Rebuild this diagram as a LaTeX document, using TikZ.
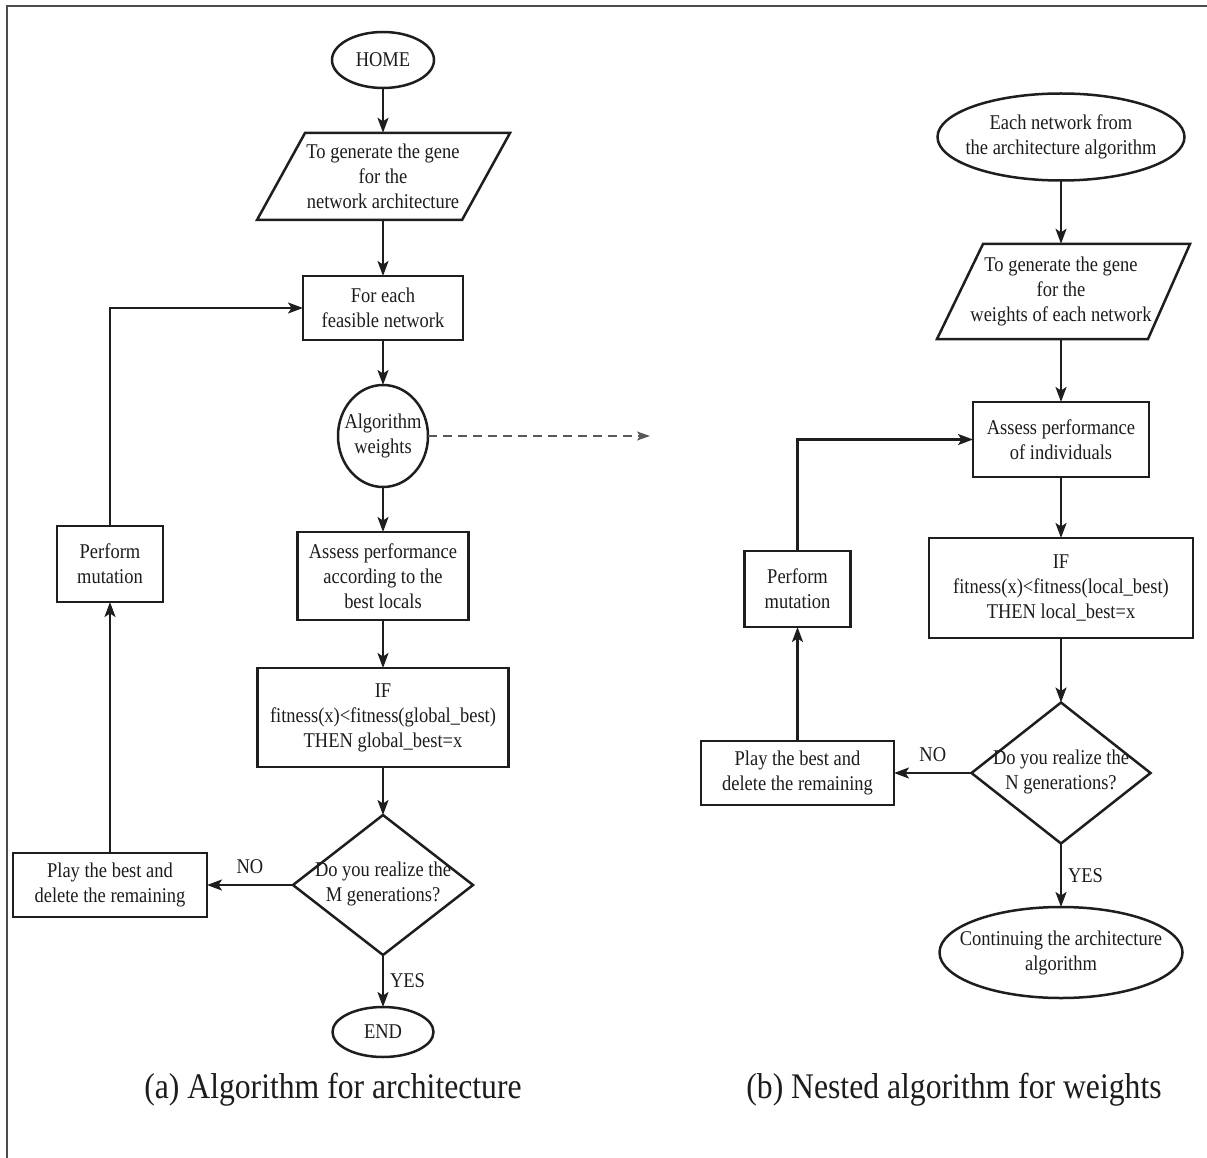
\documentclass[tikz,border=0pt]{standalone}
\usepackage{fontspec}
\setmainfont{Liberation Serif}[FakeStretch=0.88]
\usetikzlibrary{shapes.geometric,arrows.meta}
\definecolor{ink}{HTML}{1E1E1E}
\definecolor{txt}{HTML}{1C1C1C}
\begin{document}
\begin{tikzpicture}[x=1pt,y=-1pt,
  every node/.style={font=\fontsize{21}{25}\selectfont, text=txt},
  shp/.style={draw=ink, line width=2.5pt, inner sep=0pt, outer sep=0pt},
  box/.style={shp, rectangle, align=center},
  oval/.style={shp, ellipse},
  dia/.style={shp, diamond},
  lbl/.style={inner sep=0pt, align=center},
  pgram/.style={draw=ink, line width=2.5pt, line join=miter},
  arr/.style={draw=ink, line width=2.2pt, -{Stealth[length=15pt,width=11pt,inset=3.5pt]}},
  dsh/.style={draw=black!65, line width=1.3pt, dash pattern=on 9pt off 6pt, -{Stealth[length=13pt,width=9pt,inset=3pt]}},
  captxt/.style={font=\fontsize{36}{40}\selectfont, inner sep=0pt, anchor=base}
]
\useasboundingbox (0,0) rectangle (1207,1158);
% frame (top and left edges)
\draw[line width=2pt, black!70] (7,1158) -- (7,6) -- (1207,6);

% ---------- (a) left chart ----------
\node[oval, minimum width=102pt, minimum height=56pt] (home) at (383,60) {};
\node[lbl] (homet) at (home) {HOME};

\draw[pgram] (305,133) -- (510,133) -- (462,220) -- (257,220) -- cycle;
\node[lbl, minimum width=205pt, minimum height=87pt] (p1) at (383,176.5)
  {To generate the gene\\for the\\network architecture};

\node[box, minimum width=160pt, minimum height=64pt] (feas) at (383,308)
  {For each\\feasible network};

\node[oval, minimum width=90pt, minimum height=102pt] (aw) at (383,436) {};
\node[lbl] (awt) at (aw) {Algorithm\\weights};

\node[box, minimum width=171pt, minimum height=88pt] (ass) at (383,576)
  {Assess performance\\according to the\\best locals};

\node[box, minimum width=251pt, minimum height=99pt] (if1) at (383,717.5)
  {IF\\fitness(x)<fitness(global\_best)\\THEN global\_best=x};

\node[dia, minimum width=180pt, minimum height=140pt] (d1) at (383,885) {};
\node[lbl] (d1t) at (383,884) {Do you realize the\\M generations?};

\node[box, minimum width=194pt, minimum height=64pt] (play1) at (110,885)
  {Play the best and\\delete the remaining};

\node[box, minimum width=106pt, minimum height=76pt] (mut1) at (110,564)
  {Perform\\mutation};

\node[oval, minimum width=101pt, minimum height=50pt] (end) at (383,1032) {};
\node[lbl] (endt) at (end) {END};

\draw[arr] (home) -- (p1);
\draw[arr] (p1) -- (feas);
\draw[arr] (feas) -- (aw);
\draw[arr] (aw) -- (ass);
\draw[arr] (ass) -- (if1);
\draw[arr] (if1) -- (d1);
\draw[arr] (d1.west) -- node[lbl, above=10pt] (no1) {NO} (play1.east);
\draw[arr] (play1) -- (mut1);
\draw[arr] (mut1.north) |- (feas.west);
\draw[arr] (d1.south) -- node[lbl, right=6pt] (yes1) {YES} (end.north);
\coordinate (dend) at (650,436);
\draw[dsh] (aw.east) -- (dend);

% ---------- (b) right chart ----------
\node[oval, minimum width=247pt, minimum height=87pt] (net) at (1061,137) {};
\node[lbl] (nett) at (net) {Each network from\\the architecture algorithm};

\draw[pgram] (983,244) -- (1190,244) -- (1148,339) -- (937,339) -- cycle;
\node[lbl, minimum width=205pt, minimum height=95pt] (p2) at (1061,291.5)
  {To generate the gene\\for the\\weights of each network};

\node[box, minimum width=176pt, minimum height=75pt] (ass2) at (1061,439.5)
  {Assess performance\\of individuals};

\node[box, minimum width=264pt, minimum height=100pt] (if2) at (1061,588)
  {IF\\fitness(x)<fitness(local\_best)\\THEN local\_best=x};

\node[dia, minimum width=179pt, minimum height=141pt] (d2) at (1061,773) {};
\node[lbl] (d2t) at (1061,772) {Do you realize the\\N generations?};

\node[box, minimum width=193pt, minimum height=64pt] (play2) at (797.5,773)
  {Play the best and\\delete the remaining};

\node[box, minimum width=106pt, minimum height=76pt] (mut2) at (797.5,589)
  {Perform\\mutation};

\node[oval, minimum width=243pt, minimum height=91pt] (cont) at (1061,952.5) {};
\node[lbl] (contt) at (cont) {Continuing the architecture\\algorithm};

\draw[arr] (net) -- (p2);
\draw[arr] (p2) -- (ass2);
\draw[arr] (ass2) -- (if2);
\draw[arr] (if2) -- (d2);
\draw[arr] (d2.west) -- node[lbl, above=10pt] (no2) {NO} (play2.east);
\draw[arr] (play2) -- (mut2);
\draw[arr] (mut2.north) |- (ass2.west);
\draw[arr] (d2.south) -- node[lbl, right=6pt] (yes2) {YES} (cont.north);

% captions
\node[captxt] (capa) at (333,1098) {(a) Algorithm for architecture};
\node[captxt] (capb) at (954,1098) {(b) Nested algorithm for weights};
\end{tikzpicture}
\end{document}
